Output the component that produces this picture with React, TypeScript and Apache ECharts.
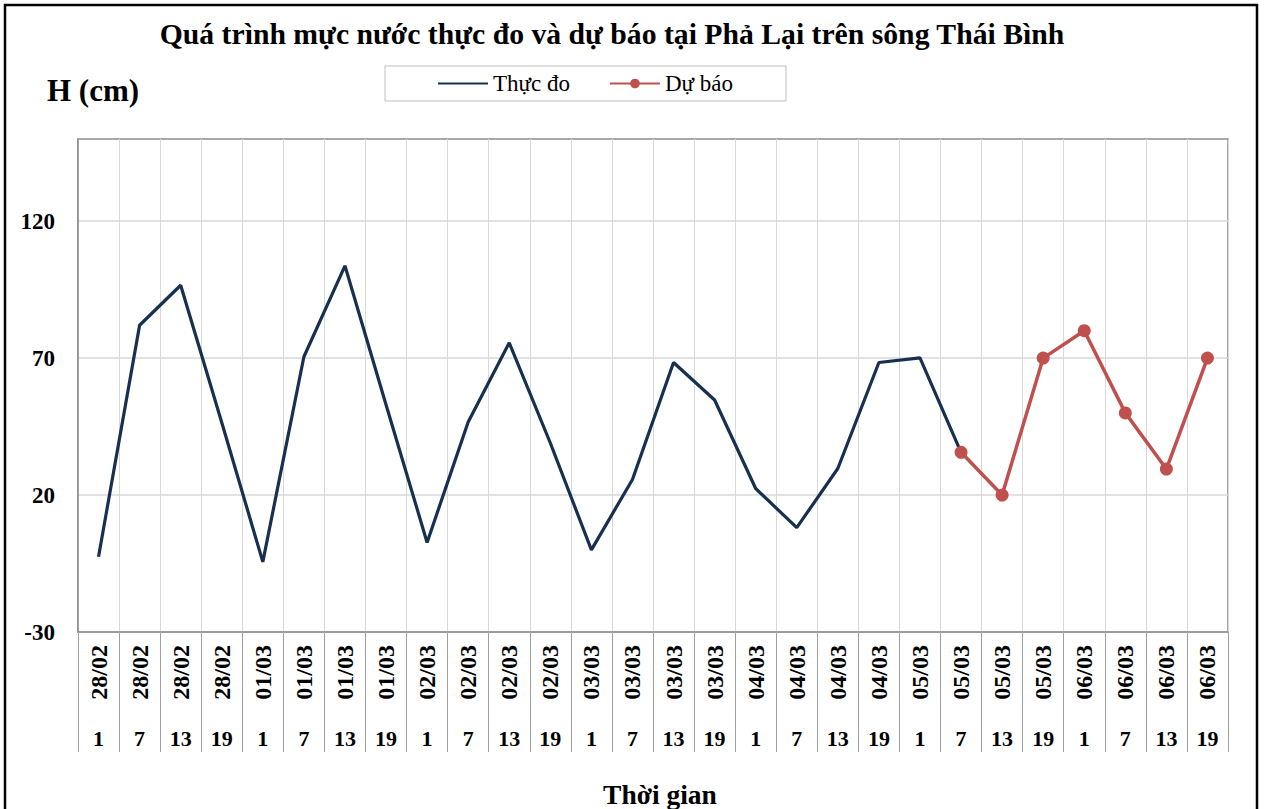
import React, { useEffect, useRef } from "react";
import * as echarts from "echarts";

const dates = [
  "28/02", "28/02", "28/02", "28/02",
  "01/03", "01/03", "01/03", "01/03",
  "02/03", "02/03", "02/03", "02/03",
  "03/03", "03/03", "03/03", "03/03",
  "04/03", "04/03", "04/03", "04/03",
  "05/03", "05/03", "05/03", "05/03",
  "06/03", "06/03", "06/03", "06/03",
];
const hours = [
  "1", "7", "13", "19", "1", "7", "13", "19", "1", "7", "13", "19", "1", "7",
  "13", "19", "1", "7", "13", "19", "1", "7", "13", "19", "1", "7", "13", "19",
];
const measured = [
  -2.5, 82, 96.6, 46.5, -4.4, 70.5, 103.7, 53, 2.7, 46.7, 75.6, 39, 0, 25.7,
  68.4, 54.7, 22.4, 8.1, 29.7, 68.4, 70.1, 35.6,
];
const forecast = [
  null, null, null, null, null, null, null, null, null, null, null, null, null, null,
  null, null, null, null, null, null, null, 35.6, 20, 70, 80, 50, 29.5, 70,
];
const yTicks = [-30, 20, 70, 120];

const FONT = '"Liberation Serif", "Times New Roman", serif';

export default function App() {
  const ref = useRef<HTMLDivElement>(null);
  useEffect(() => {
    const chart = echarts.init(ref.current!, null, { renderer: "svg" });
    chart.setOption({
      animation: false,
      backgroundColor: "#ffffff",
      textStyle: { fontFamily: FONT },
      grid: {
        left: 78,
        right: 37,
        top: 139,
        bottom: 177,
        show: true,
        borderColor: "#8C8C8C",
        borderWidth: 1.5,
        backgroundColor: "transparent",
      },
      legend: {
        left: 385,
        top: 66,
        padding: [6, 53, 6, 52],
        itemGap: 39,
        itemWidth: 50,
        itemHeight: 12,
        backgroundColor: "#ffffff",
        borderColor: "#BFBFBF",
        borderWidth: 1,
        borderRadius: 0,
        textStyle: { fontFamily: FONT, fontSize: 23, color: "#000" },
        data: [
          { name: "Thực đo", itemStyle: { opacity: 0 } },
          { name: "Dự báo" },
        ],
      },
      graphic: [
        {
          type: "rect",
          shape: { x: 5, y: 5, width: 1252, height: 900 },
          style: { fill: "none", stroke: "#000", lineWidth: 2.5 },
        },
        {
          type: "text",
          x: 612,
          y: 34,
          style: {
            text: "Quá trình mực nước thực đo và dự báo tại Phả Lại trên sông Thái Bình",
            font: `bold 29.7px ${FONT}`,
            fill: "#000",
            align: "center",
            verticalAlign: "middle",
          },
        },
        {
          type: "text",
          x: 47,
          y: 90,
          style: {
            text: "H (cm)",
            font: `bold 31px ${FONT}`,
            fill: "#000",
            align: "left",
            verticalAlign: "middle",
          },
        },
        {
          type: "text",
          x: 660,
          y: 794,
          style: {
            text: "Thời gian",
            font: `bold 27.5px ${FONT}`,
            fill: "#000",
            align: "center",
            verticalAlign: "middle",
          },
        },
      ],
      xAxis: [
        {
          type: "category",
          data: dates,
          boundaryGap: true,
          axisLine: { show: true, onZero: false, lineStyle: { color: "#8C8C8C", width: 1.5 } },
          axisTick: {
            show: true,
            interval: 0,
            length: 120,
            lineStyle: { color: "#A0A0A0", width: 1 },
          },
          axisLabel: {
            interval: 0,
            rotate: 90,
            margin: 13,
            fontSize: 24,
            fontWeight: "bold",
            color: "#000",
            fontFamily: FONT,
          },
          splitLine: {
            show: true,
            interval: 0,
            lineStyle: { color: "#D9D9D9", width: 1 },
          },
        },
        {
          type: "category",
          data: hours,
          position: "bottom",
          boundaryGap: true,
          axisLine: { show: false, onZero: false },
          axisTick: { show: false },
          splitLine: { show: false },
          axisLabel: {
            interval: 0,
            margin: 95,
            fontSize: 22,
            fontWeight: "bold",
            color: "#000",
            fontFamily: FONT,
          },
        },
      ],
      yAxis: {
        type: "value",
        min: -30,
        max: 150,
        axisLine: { show: true, lineStyle: { color: "#8C8C8C", width: 1.5 } },
        axisTick: { show: false, customValues: yTicks },
        axisLabel: {
          customValues: yTicks,
          margin: 23,
          fontSize: 23,
          fontWeight: "bold",
          color: "#000",
          fontFamily: FONT,
        },
        splitLine: { show: true, lineStyle: { color: "#D9D9D9", width: 1.5 } },
      },
      series: [
        {
          name: "Thực đo",
          type: "line",
          xAxisIndex: 0,
          data: measured,
          color: "#17304F",
          symbol: "none",
          showSymbol: false,
          lineStyle: { width: 3.2, color: "#17304F" },
          z: 3,
        },
        {
          name: "Dự báo",
          type: "line",
          xAxisIndex: 0,
          data: forecast,
          color: "#C0504D",
          symbol: "circle",
          symbolSize: 13,
          lineStyle: { width: 3.5, color: "#C0504D" },
          itemStyle: { color: "#C0504D" },
          z: 4,
        },
      ],
    });
    return () => chart.dispose();
  }, []);
  return (
    <div
      ref={ref}
      style={{ position: "fixed", left: 0, top: 0, width: 1265, height: 809 }}
    />
  );
}
